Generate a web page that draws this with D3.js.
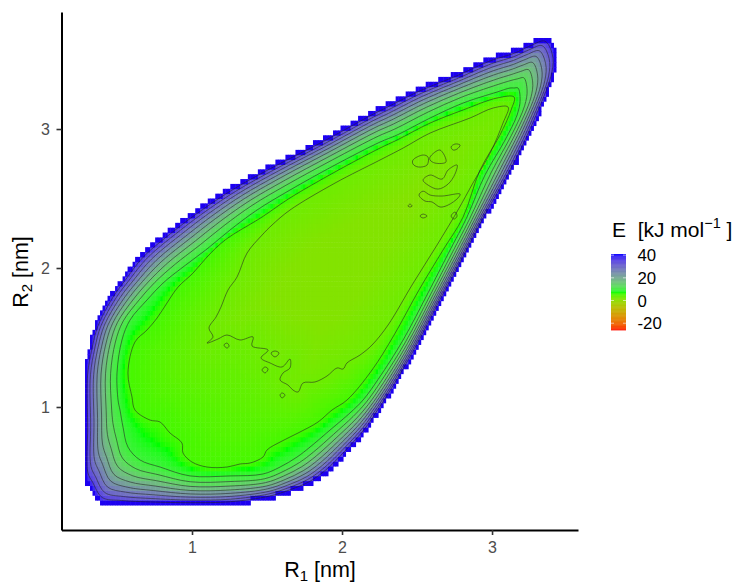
<!DOCTYPE html>
<html><head><meta charset="utf-8">
<style>html,body{margin:0;padding:0;background:#fff}text{font-family:"Liberation Sans",Arial,sans-serif}</style>
<script src="https://cdn.jsdelivr.net/npm/d3@7"></script></head><body><svg id="c" width="741" height="584"></svg>
<script>
const xTicks=[1,2,3], yTicks=[1,2,3], legendTicks=[40,20,0,-20];
// contour levels from the outer edge (kJ/mol) inwards; mid rings sit at measured fractions of the edge-to-8 band
const edgeLevel=43, ring8Level=9.5, ring4Level=6, ring0Level=3.5;
const bandLevels=[36,32,28,24,20,16,12];
const bandFractions=[.08,.17,.27,.38,.5,.64,.8];
const edgeRing=[[3.367,3.662],[3.42,3.568],[3.42,3.439],[3.32,3.137],[3.167,2.777],[2.927,2.316],[2.81,2.072],[2.653,1.755],[2.487,1.41],[2.333,1.122],[2.24,.964],[2.16,.834],[2.033,.676],[1.9,.532],[1.787,.446],[1.653,.388],[1.52,.345],[1.253,.302],[.987,.295],[.72,.295],[.52,.302],[.387,.317],[.32,.424],[.287,.489],[.287,.834],[.287,1.23],[.315,1.41],[.353,1.575],[.453,1.791],[.533,1.914],[.653,2.086],[.887,2.3],[1.053,2.432],[1.267,2.583],[1.533,2.741],[1.873,2.928],[2.187,3.115],[2.293,3.173],[2.52,3.295],[2.753,3.396],[2.987,3.511],[3.153,3.568],[3.267,3.626]];
const ring8=[[3.173,3.295],[3.187,3.209],[3.167,3.101],[3.087,2.921],[2.953,2.669],[2.833,2.367],[2.72,2.129],[2.573,1.82],[2.407,1.482],[2.247,1.209],[2.14,1.05],[2.053,.957],[1.92,.834],[1.787,.712],[1.7,.64],[1.587,.568],[1.473,.518],[1.253,.504],[.987,.504],[.787,.568],[.653,.619],[.573,.712],[.54,.856],[.52,.978],[.507,1.05],[.5,1.245],[.533,1.482],[.587,1.626],[.7,1.77],[.807,1.892],[.94,2.007],[1.1,2.137],[1.253,2.273],[1.433,2.417],[1.653,2.561],[1.953,2.741],[2.253,2.906],[2.367,2.957],[2.587,3.079],[2.807,3.187],[3.033,3.266],[3.12,3.295],[3.147,3.295]];
const ring4=[[3.147,3.23],[3.127,3.137],[3.053,2.957],[2.92,2.705],[2.807,2.367],[2.673,2.129],[2.513,1.842],[2.347,1.518],[2.2,1.266],[2.033,1.05],[1.933,.978],[1.84,.892],[1.707,.813],[1.6,.755],[1.5,.691],[1.473,.64],[1.387,.597],[1.32,.59],[1.233,.568],[1.1,.568],[1,.604],[.94,.669],[.933,.741],[.853,.813],[.787,.892],[.72,.906],[.62,.978],[.6,1.072],[.573,1.245],[.62,1.468],[.7,1.554],[.767,1.64],[.833,1.748],[.907,1.863],[1.007,1.964],[1.1,2.079],[1.22,2.201],[1.467,2.367],[1.653,2.504],[1.953,2.691],[2.253,2.863],[2.367,2.921],[2.587,3.043],[2.807,3.137],[3.033,3.223]];
const ring0=[[3.107,3.158],[3.073,3.043],[2.987,2.827],[2.873,2.612],[2.773,2.417],[2.633,2.165],[2.467,1.878],[2.307,1.59],[2.2,1.446],[2.12,1.374],[2.033,1.317],[2.007,1.273],[1.967,1.281],[1.9,1.223],[1.82,1.18],[1.74,1.173],[1.707,1.108],[1.673,1.122],[1.64,1.158],[1.587,1.194],[1.607,1.245],[1.653,1.281],[1.653,1.345],[1.6,1.288],[1.52,1.317],[1.46,1.353],[1.507,1.41],[1.4,1.439],[1.407,1.504],[1.32,1.482],[1.233,1.518],[1.173,1.489],[1.1,1.46],[1.14,1.504],[1.113,1.568],[1.16,1.647],[1.193,1.719],[1.24,1.842],[1.3,1.935],[1.367,2.108],[1.467,2.237],[1.533,2.309],[1.653,2.417],[1.953,2.611],[2.253,2.777],[2.407,2.863],[2.587,2.971],[2.853,3.079],[3.007,3.151]];
const islandA=[[2.473,2.777],[2.54,2.813],[2.573,2.799],[2.567,2.741],[2.507,2.727],[2.473,2.748]];
const islandB=[[2.587,2.799],[2.653,2.849],[2.693,2.763],[2.62,2.755],[2.587,2.777]];
const islandC=[[2.54,2.633],[2.587,2.669],[2.667,2.64],[2.707,2.705],[2.767,2.741],[2.753,2.676],[2.707,2.604],[2.64,2.568],[2.573,2.597]];
const islandD=[[2.727,2.871],[2.753,2.892],[2.787,2.885],[2.767,2.856],[2.74,2.849]];
const islandE=[[2.513,2.525],[2.54,2.553],[2.587,2.525],[2.667,2.518],[2.787,2.532],[2.773,2.504],[2.707,2.453],[2.653,2.439],[2.6,2.475],[2.553,2.482]];
const islandF=[[2.44,2.446],[2.453,2.46],[2.467,2.446],[2.453,2.439]];
const islandG=[[2.52,2.374],[2.54,2.388],[2.567,2.374],[2.54,2.36]];
const islandH=[[2.727,2.374],[2.753,2.403],[2.767,2.374],[2.747,2.352]];
const islandI=[[1.213,1.446],[1.233,1.46],[1.247,1.439],[1.233,1.424]];
const islandJ=[[1.527,1.388],[1.553,1.403],[1.58,1.388],[1.553,1.36]];
const islandK=[[1.467,1.266],[1.487,1.288],[1.507,1.273],[1.487,1.245]];
const islandL=[[1.587,1.086],[1.6,1.101],[1.62,1.086],[1.6,1.065]];
const coreDepth=2; // how far below the innermost level the centre sinks
const colorStops=[-26,7.5,41], colorRange=["#ff0000","#00ff00","#0000ff"], edgeColor="#1c00f0";
const tileR=.0167, tileS=.035;

const svg=d3.select("#c");
const x=d3.scaleLinear().domain([.13,3.573]).range([61.5,578]);
const y=d3.scaleLinear().domain([.115,3.842]).range([530,12]);
const color=d3.scaleLinear().domain(colorStops).range(colorRange).interpolate(d3.interpolateLab).clamp(true);
const legendY=d3.scaleLinear().domain([-26,41]).range([330,254]);
const line=d3.line().x(d=>x(d[0])).y(d=>y(d[1])).curve(d3.curveCatmullRomClosed.alpha(.5));

const midRings=bandFractions.map(f=>edgeRing.map((p,i)=>[p[0]+(ring8[i][0]-p[0])*f,p[1]+(ring8[i][1]-p[1])*f]));
const rings=[{l:edgeLevel,r:edgeRing},...bandLevels.map((l,i)=>({l,r:midRings[i]})),{l:ring8Level,r:ring8},{l:ring4Level,r:ring4},{l:ring0Level,r:ring0}];
const probe=svg.append("path").attr("fill","none");
rings.forEach(o=>{probe.attr("d",line(o.r));const n=probe.node(),L=n.getTotalLength();o.p=d3.range(0,L,3).map(t=>{const q=n.getPointAtLength(t);return [q.x,q.y];});});
probe.remove();
function distTo(poly,a,b){let m=1e9;for(let i=0,n=poly.length;i<n;i++){const [x1,y1]=poly[i],[x2,y2]=poly[(i+1)%n];const dx=x2-x1,dy=y2-y1;let t=((a-x1)*dx+(b-y1)*dy)/(dx*dx+dy*dy||1);t=Math.max(0,Math.min(1,t));m=Math.min(m,Math.hypot(a-x1-t*dx,b-y1-t*dy));}return m;}
function field(a,b){
  let i=-1;for(let k=rings.length-1;k>=0;k--){if(d3.polygonContains(rings[k].p,[a,b])){i=k;break;}}
  if(i<0)return distTo(rings[0].p,a,b)<1?edgeLevel:null;
  const R=rings[i],dOut=distTo(R.p,a,b);
  if(i===rings.length-1)return R.l-coreDepth*Math.min(1,dOut/45);
  const N=rings[i+1],dIn=distTo(N.p,a,b);
  return R.l+(N.l-R.l)*dOut/(dOut+dIn);
}
const rVals=d3.range(.295,3.46,tileR), sVals=d3.range(.3125,3.70,tileS);
const key=(i,j)=>i+"_"+j, on=new Set(), tiles=[];
rVals.forEach((r,i)=>sVals.forEach((s,j)=>{
  const e=field(x(r),y(s));
  if(e!==null){on.add(key(i,j));tiles.push({r,s,i,j,e,b:false});}
}));
tiles.forEach(t=>{t.b=[[1,0],[-1,0],[0,1],[0,-1]].some(d=>!on.has(key(t.i+d[0],t.j+d[1])));});
const defs=svg.append("defs");
defs.append("filter").attr("id","soft").attr("x","-5%").attr("y","-5%").attr("width","110%").attr("height","110%").append("feGaussianBlur").attr("stdDeviation",.55);
svg.append("g").attr("filter","url(#soft)").selectAll("rect").data(tiles).join("rect")
  .attr("x",d=>x(d.r-tileR/2)).attr("y",d=>y(d.s+tileS/2))
  .attr("width",x(tileR)-x(0)+.5).attr("height",y(0)-y(tileS)+.5)
  .attr("fill",d=>d.b?edgeColor:color(d.e));

const contourPaths=[...rings.slice(1).map(o=>o.r),islandA,islandB,islandC,islandD,islandE,islandF,islandG,islandH,islandI,islandJ,islandK,islandL];
svg.append("g").selectAll("path").data(contourPaths).join("path").attr("d",line)
  .attr("fill","none").attr("stroke","#222").attr("stroke-opacity",.7).attr("stroke-width",.8);

// axes
const xa=svg.append("g").attr("transform","translate(0,530)").call(d3.axisBottom(x).tickValues(xTicks).tickFormat(d3.format("d")).tickSize(5).tickSizeOuter(0).tickPadding(6.5));
const ya=svg.append("g").attr("transform","translate(61.5,0)").call(d3.axisLeft(y).tickValues(yTicks).tickFormat(d3.format("d")).tickSize(5).tickSizeOuter(0).tickPadding(6.5));
[xa,ya].forEach(g=>{g.select(".domain").attr("stroke","#000").attr("stroke-width",2);g.selectAll(".tick line").attr("stroke","#333").attr("stroke-width",1.6);g.selectAll("text").attr("font-size",16).attr("fill","#4d4d4d").style("font-family",'"Liberation Sans",Arial,sans-serif');});

const xt=svg.append("text").attr("x",320).attr("y",577).attr("text-anchor","middle").attr("font-size",21.5).attr("fill","#000");
xt.append("tspan").text("R");xt.append("tspan").text("1").attr("font-size",15).attr("dy",4);xt.append("tspan").text(" [nm]").attr("dy",-4);
const yt=svg.append("text").attr("transform","translate(28,272) rotate(-90)").attr("text-anchor","middle").attr("font-size",21.5).attr("fill","#000");
yt.append("tspan").text("R");yt.append("tspan").text("2").attr("font-size",15).attr("dy",4);yt.append("tspan").text(" [nm]").attr("dy",-4);

// legend
const lg=svg.append("g");
lg.selectAll("rect").data(d3.range(-26,41,.5)).join("rect").attr("x",611).attr("width",15)
  .attr("y",d=>legendY(d+.5)).attr("height",d=>legendY(d)-legendY(d+.5)+.4).attr("fill",d=>color(d+.25));
lg.selectAll("line.t").data(legendTicks.flatMap(v=>[[611,v],[623,v]])).join("line").attr("class","t")
  .attr("x1",d=>d[0]).attr("x2",d=>d[0]+3).attr("y1",d=>legendY(d[1])).attr("y2",d=>legendY(d[1])).attr("stroke","#fff").attr("stroke-width",.6);
lg.selectAll("text.l").data(legendTicks).join("text").attr("class","l").attr("x",637.5).attr("y",d=>legendY(d)+6)
  .attr("font-size",16.8).attr("fill","#000").text(d=>d);
const lt=svg.append("text").attr("x",612).attr("y",237).attr("font-size",21).attr("fill","#000").attr("xml:space","preserve").style("white-space","pre");
lt.append("tspan").text("E  [kJ mol");lt.append("tspan").text("−1").attr("font-size",14.5).attr("dy",-9);lt.append("tspan").text(" ]").attr("dy",9);
</script></body></html>
